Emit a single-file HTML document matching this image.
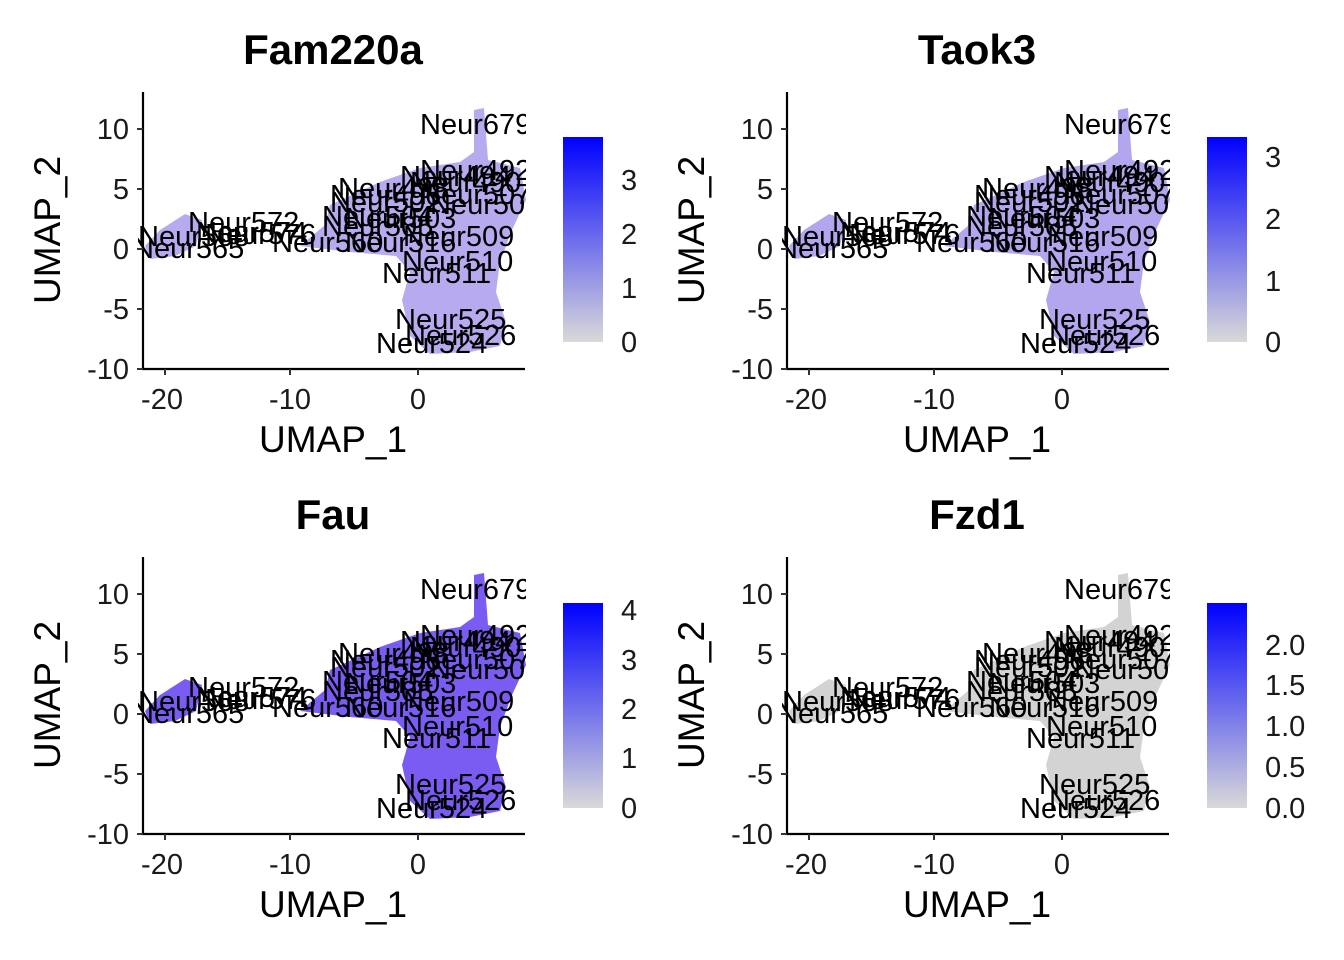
<!DOCTYPE html><html><head><style>
body{margin:0;background:#fff}
svg{position:absolute;left:0;top:0;font-family:"Liberation Sans",sans-serif}
.t{font-size:29px;fill:#000}
.ax{font-size:29px;fill:#1a1a1a}
.lab{font-size:37px}
.ti{font-size:42px;font-weight:bold}
</style></head><body>
<svg width="1344" height="960" viewBox="0 0 1344 960">
<defs>
<linearGradient id="g" x1="0" y1="1" x2="0" y2="0"><stop offset="0" stop-color="#d9d9d9"/><stop offset="1" stop-color="#0000ff"/></linearGradient>
<clipPath id="c"><rect x="138" y="88" width="388" height="282"/></clipPath>
<g id="cloud">
<path d="M330,205 L380,182 L420,168 L460,162 L474,152 L474,110 L484,108 L488,160 L520,168 L526,200 L512,230 L500,262 L496,292 L506,322 L500,346 L470,352 L430,354 L410,336 L402,300 L410,272 L396,256 L350,252 L300,246 L325,225 Z"/>
<path d="M145,246 L160,230 L185,214 L202,220 L196,246 L175,256 L150,259 Z"/>
</g>
<g id="labs" class="t">
<text x="420" y="134">Neur679</text><text x="420" y="180">Neur492</text><text x="400" y="186">Neur494</text><text x="410" y="192">Neur490</text>
<text x="338" y="198">Neur498</text><text x="330" y="205">Neur496</text><text x="420" y="204">Neur507</text><text x="430" y="214">Neur506</text><text x="330" y="212">Neur502</text>
<text x="188" y="232">Neur572</text><text x="196" y="242">Neur574</text><text x="205" y="244">Neur576</text><text x="322" y="226">Neur504</text><text x="345" y="228">Neur503</text><text x="322" y="236">Neur505</text>
<text x="138" y="246">Neur568</text><text x="133" y="258">Neur565</text><text x="272" y="252">Neur560</text><text x="345" y="252">Neur516</text><text x="403" y="246">Neur509</text>
<text x="402" y="271">Neur510</text><text x="382" y="283">Neur511</text><text x="395" y="329">Neur525</text><text x="405" y="345">Neur526</text><text x="376" y="353">Neur524</text>
</g>
<g id="axes">
<path d="M143,92V369H525" fill="none" stroke="#000" stroke-width="2.2"/>
<path d="M137,129H143M137,189H143M137,249H143M137,309H143M137,369H143M165,369V375M290,369V375M418,369V375" stroke="#333" stroke-width="2"/>
<g class="ax" text-anchor="end"><text x="129" y="139">10</text><text x="129" y="199">5</text><text x="129" y="259">0</text><text x="129" y="319">-5</text><text x="129" y="379">-10</text></g>
<g class="ax" text-anchor="middle"><text x="162" y="409">-20</text><text x="290" y="409">-10</text><text x="418" y="409">0</text></g>
<text class="lab" x="333" y="452" text-anchor="middle">UMAP_1</text>
<text class="lab" x="60" y="230" text-anchor="middle" transform="rotate(-90 60 230)">UMAP_2</text>
</g>
</defs>

<g transform="translate(0,0)">
<g fill="#b8aaee" clip-path="url(#c)"><use href="#cloud"/></g>
<g clip-path="url(#c)"><use href="#labs"/></g>
<use href="#axes"/>
<text class="ti" x="333" y="64" text-anchor="middle">Fam220a</text>
<rect x="563" y="137" width="40" height="205" fill="url(#g)"/>
<g class="ax"><text x="621" y="190">3</text><text x="621" y="244">2</text><text x="621" y="298">1</text><text x="621" y="352">0</text></g>
</g>

<g transform="translate(644,0)">
<g fill="#b4a6ee" clip-path="url(#c)"><use href="#cloud"/></g>
<g clip-path="url(#c)"><use href="#labs"/></g>
<use href="#axes"/>
<text class="ti" x="333" y="64" text-anchor="middle">Taok3</text>
<rect x="563" y="137" width="40" height="205" fill="url(#g)"/>
<g class="ax"><text x="621" y="167">3</text><text x="621" y="229">2</text><text x="621" y="291">1</text><text x="621" y="352">0</text></g>
</g>

<g transform="translate(0,465)">
<g fill="#7b5cf2" clip-path="url(#c)"><use href="#cloud"/></g>
<g clip-path="url(#c)"><use href="#labs"/></g>
<use href="#axes"/>
<text class="ti" x="333" y="64" text-anchor="middle">Fau</text>
<rect x="563" y="138" width="40" height="205" fill="url(#g)"/>
<g class="ax"><text x="621" y="155">4</text><text x="621" y="205">3</text><text x="621" y="254">2</text><text x="621" y="303">1</text><text x="621" y="353">0</text></g>
</g>

<g transform="translate(644,465)">
<g fill="#d3d3d3" clip-path="url(#c)"><use href="#cloud"/></g>
<g clip-path="url(#c)"><use href="#labs"/></g>
<use href="#axes"/>
<text class="ti" x="333" y="64" text-anchor="middle">Fzd1</text>
<rect x="563" y="138" width="40" height="205" fill="url(#g)"/>
<g class="ax"><text x="621" y="190">2.0</text><text x="621" y="230">1.5</text><text x="621" y="271">1.0</text><text x="621" y="312">0.5</text><text x="621" y="353">0.0</text></g>
</g>
</svg>
</body></html>
